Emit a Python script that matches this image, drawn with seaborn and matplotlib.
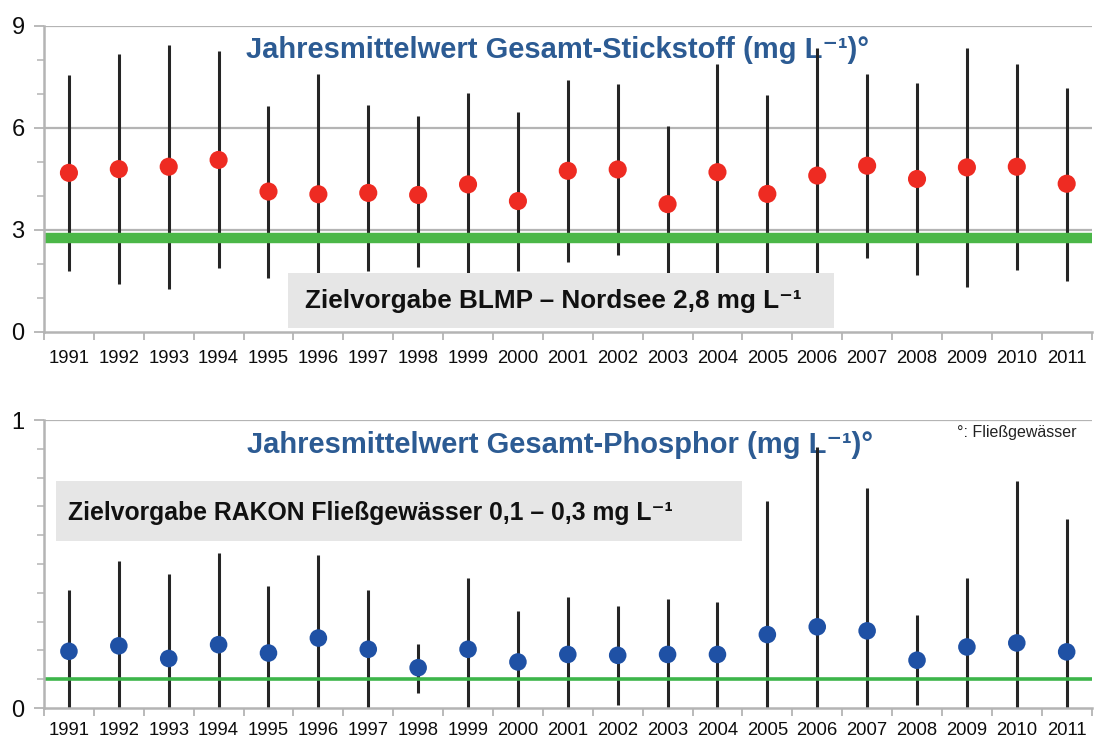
import numpy as np
import pandas as pd
import matplotlib
matplotlib.use("Agg")
import matplotlib.pyplot as plt
from matplotlib.patches import Rectangle
from matplotlib.ticker import MultipleLocator, FixedLocator
import seaborn as sns

years = list(range(1991, 2012))

# Gesamt-Stickstoff (mg/L)
n_mean = [4.68, 4.79, 4.86, 5.06, 4.13, 4.05, 4.09, 4.03, 4.34, 3.85, 4.74,
          4.78, 3.76, 4.70, 4.06, 4.60, 4.89, 4.50, 4.84, 4.86, 4.36]
n_max = [7.55, 8.19, 8.43, 8.26, 6.64, 7.60, 6.69, 6.35, 7.02, 6.46, 7.41,
         7.28, 6.06, 7.87, 6.97, 8.35, 7.60, 7.31, 8.34, 7.89, 7.19]
n_min = [1.78, 1.41, 1.26, 1.88, 1.60, 1.60, 1.80, 1.90, 1.70, 1.80, 2.07,
         2.27, 1.60, 1.50, 1.70, 1.50, 2.17, 1.68, 1.32, 1.83, 1.51]
n_target = 2.75

# Gesamt-Phosphor (mg/L)
p_mean = [0.197, 0.216, 0.172, 0.220, 0.191, 0.243, 0.204, 0.140, 0.204, 0.160, 0.186,
          0.183, 0.186, 0.186, 0.255, 0.282, 0.268, 0.166, 0.212, 0.226, 0.195]
p_max = [0.409, 0.512, 0.466, 0.538, 0.422, 0.530, 0.409, 0.221, 0.452, 0.336, 0.387,
         0.355, 0.380, 0.367, 0.718, 0.905, 0.765, 0.323, 0.452, 0.790, 0.656]
p_min = [0.0, 0.0, 0.0, 0.0, 0.0, 0.0, 0.0, 0.052, 0.0, 0.0, 0.0,
         0.011, 0.0, 0.0, 0.0, 0.0, 0.0, 0.011, 0.0, 0.0, 0.0]
p_target = 0.1

title_n = "Jahresmittelwert Gesamt-Stickstoff (mg L⁻¹)°"
title_p = "Jahresmittelwert Gesamt-Phosphor (mg L⁻¹)°"
box_n = "Zielvorgabe BLMP – Nordsee 2,8 mg L⁻¹"
box_p = "Zielvorgabe RAKON Fließgewässer 0,1 – 0,3 mg L⁻¹"
note_p = "°: Fließgewässer"

df_n = pd.DataFrame({"year": years, "mean": n_mean, "lo": n_min, "hi": n_max})
df_p = pd.DataFrame({"year": years, "mean": p_mean, "lo": p_min, "hi": p_max})

sns.set_style("white")
plt.rcParams["font.family"] = ["Liberation Sans", "DejaVu Sans"]

fig = plt.figure(figsize=(10.97, 7.40), dpi=100)
ax1 = fig.add_axes([0.0401, 0.5514, 0.955, 0.4135])
ax2 = fig.add_axes([0.0401, 0.0432, 0.955, 0.3892])

GRID = "#b4b4b4"
TITLE_BLUE = "#2c5b93"
BOXGREY = "#e6e6e6"


def style_axes(ax, ymax, major, minor, pad_x):
    ax.set_xlim(years[0] - 0.5, years[-1] + 0.5)
    ax.set_ylim(0, ymax)
    ax.xaxis.set_major_locator(FixedLocator(years))
    ax.xaxis.set_minor_locator(FixedLocator([y - 0.5 for y in years] + [years[-1] + 0.5]))
    ax.yaxis.set_major_locator(MultipleLocator(major))
    ax.yaxis.set_minor_locator(MultipleLocator(minor))
    ax.set_xticklabels([str(y) for y in years])
    ax.tick_params(axis="x", which="major", length=0, pad=pad_x, labelsize=13.3,
                   labelcolor="#0d0d0d")
    ax.tick_params(axis="x", which="minor", length=6, width=1.3, color=GRID,
                   direction="out", bottom=True)
    ax.tick_params(axis="y", which="major", length=7, width=1.3, color=GRID,
                   direction="out", pad=7, labelsize=17, labelcolor="#0d0d0d", left=True)
    ax.tick_params(axis="y", which="minor", length=5, width=1.1, color=GRID,
                   direction="out", left=True)
    for s in ["top", "right"]:
        ax.spines[s].set_visible(False)
    for s in ["left", "bottom"]:
        ax.spines[s].set_color(GRID)
        ax.spines[s].set_linewidth(1.8)


# ---------- Top: Stickstoff ----------
style_axes(ax1, 9, 3, 1, 13)
for g in [3, 6, 9]:
    ax1.axhline(g, color=GRID, lw=1.6, zorder=0.5)
ax1.vlines(df_n["year"], df_n["lo"], df_n["hi"], color="#252525", lw=2.2, zorder=2)
ax1.axhline(n_target, color="#4bb748", lw=7.5, zorder=2.5)
sns.scatterplot(data=df_n, x="year", y="mean", ax=ax1, s=170, color="#ee2b22",
                edgecolor="none", linewidth=0, zorder=5, legend=False)
ax1.add_patch(Rectangle((4.39 + years[0], 0.12), 10.95, 1.61, facecolor=BOXGREY,
                        edgecolor="none", zorder=3))
ax1.text(9.70 + years[0], 0.90, box_n, ha="center", va="center", fontsize=18.8,
         fontweight="bold", color="#111111", zorder=4)
ax1.text(9.80 + years[0], 8.30, title_n, ha="center", va="center", fontsize=21,
         fontweight="bold", color=TITLE_BLUE, zorder=1.5)
ax1.set_xlabel("")
ax1.set_ylabel("")

# ---------- Bottom: Phosphor ----------
style_axes(ax2, 1, 1, 0.1, 10)
ax2.axhline(1, color=GRID, lw=1.6, zorder=0.5)
ax2.vlines(df_p["year"], df_p["lo"], df_p["hi"], color="#252525", lw=2.2, zorder=2)
ax2.axhline(p_target, color="#3db54a", lw=2.6, zorder=2.5)
sns.scatterplot(data=df_p, x="year", y="mean", ax=ax2, s=160, color="#1f51a5",
                edgecolor="none", linewidth=0, zorder=5, legend=False)
ax2.add_patch(Rectangle((-0.25 + years[0], 0.581), 13.75, 0.207, facecolor=BOXGREY,
                        edgecolor="none", zorder=3))
ax2.text(6.05 + years[0], 0.676, box_p, ha="center", va="center", fontsize=17.8,
         fontweight="bold", color="#111111", zorder=4)
ax2.text(9.85 + years[0], 0.915, title_p, ha="center", va="center", fontsize=21,
         fontweight="bold", color=TITLE_BLUE, zorder=1.5)
ax2.text(19.0 + years[0], 0.956, note_p, ha="center", va="center", fontsize=11.5,
         color="#222222", zorder=4)
ax2.set_xlabel("")
ax2.set_ylabel("")

fig.savefig("out.png", dpi=100)
